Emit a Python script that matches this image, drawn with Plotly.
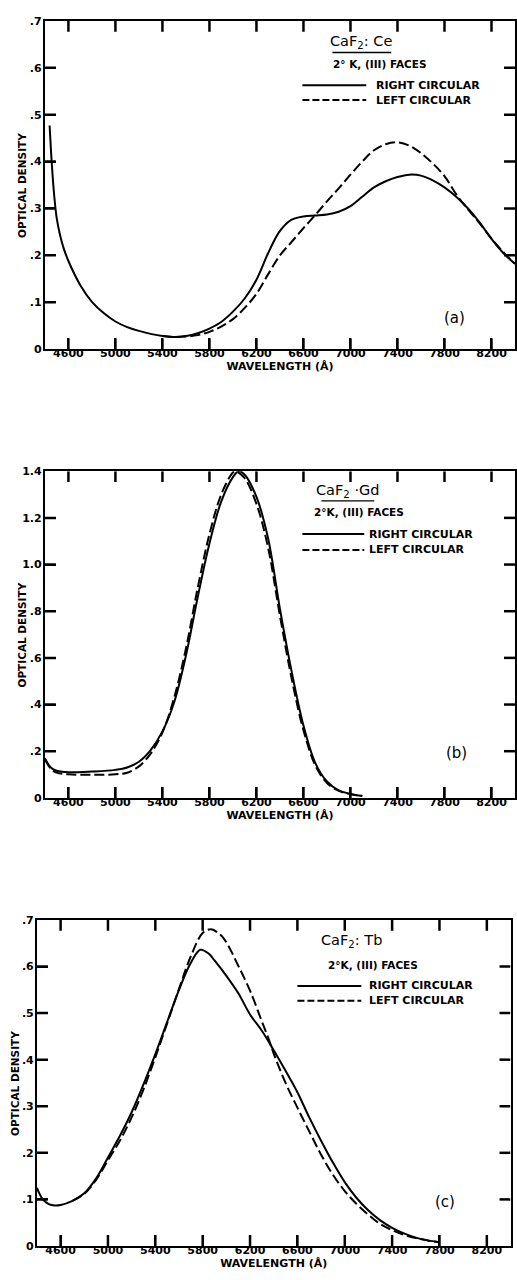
import plotly.graph_objects as go

# ---------------- data ----------------
# Panel (a) CaF2:Ce
wl_a_right = [4440, 4460, 4480, 4500, 4530, 4560, 4600, 4700, 4800, 4900, 5000, 5100, 5200, 5400, 5500, 5600,
              5700, 5800, 5900, 6000, 6100, 6200, 6300, 6400, 6500, 6600, 6700, 6800, 6900, 7000,
              7100, 7200, 7300, 7400, 7500, 7600, 7700, 7800, 7900, 8000, 8100, 8200, 8300, 8400]
od_a_right = [0.477, 0.39, 0.325, 0.28, 0.242, 0.215, 0.188, 0.137, 0.101, 0.077, 0.059, 0.047, 0.039, 0.028, 0.026, 0.028,
              0.034, 0.044, 0.058, 0.080, 0.108, 0.148, 0.205, 0.252, 0.276, 0.283, 0.285, 0.287, 0.293, 0.305,
              0.325, 0.345, 0.358, 0.367, 0.372, 0.370, 0.360, 0.345, 0.325, 0.300, 0.270, 0.235, 0.205, 0.182]
wl_a_left = [5400, 5500, 5600, 5700, 5800, 5900, 6000, 6100, 6200, 6300, 6400, 6500, 6600, 6700, 6800,
             6900, 7000, 7100, 7200, 7300, 7400, 7500, 7600, 7700, 7800, 7900, 8000, 8100, 8200, 8300, 8400]
od_a_left = [0.028, 0.026, 0.027, 0.030, 0.037, 0.048, 0.064, 0.088, 0.118, 0.160, 0.200, 0.229, 0.258, 0.286, 0.315,
             0.343, 0.372, 0.400, 0.424, 0.437, 0.441, 0.434, 0.418, 0.396, 0.369, 0.330, 0.298, 0.268, 0.236, 0.207, 0.182]

# Panel (b) CaF2:Gd
wl_b_right = [4400, 4450, 4500, 4600, 4800, 5000, 5100, 5200, 5300, 5400, 5500, 5600, 5700, 5800,
              5900, 6000, 6050, 6100, 6200, 6300, 6400, 6500, 6600, 6700, 6800, 6900, 7000, 7100]
od_b_right = [0.170, 0.130, 0.116, 0.110, 0.113, 0.120, 0.130, 0.155, 0.205, 0.285, 0.41, 0.61, 0.86, 1.09,
              1.27, 1.375, 1.40, 1.385, 1.29, 1.11, 0.81, 0.54, 0.31, 0.15, 0.07, 0.032, 0.017, 0.008]
wl_b_left = [4400, 4450, 4500, 4600, 4800, 5000, 5100, 5200, 5300, 5400, 5500, 5600, 5700, 5800,
             5900, 6000, 6025, 6100, 6200, 6300, 6400, 6500, 6600, 6700, 6800, 6900, 7000, 7100]
od_b_left = [0.165, 0.125, 0.108, 0.101, 0.099, 0.101, 0.108, 0.135, 0.19, 0.28, 0.43, 0.64, 0.90, 1.13,
             1.30, 1.395, 1.40, 1.37, 1.26, 1.07, 0.78, 0.51, 0.29, 0.14, 0.064, 0.03, 0.016, 0.008]

# Panel (c) CaF2:Tb
wl_c_right = [4400, 4450, 4500, 4550, 4600, 4700, 4800, 4900, 5000, 5100, 5200, 5300, 5400, 5500, 5600,
              5700, 5780, 5850, 5900, 6000, 6100, 6200, 6300, 6400, 6500, 6600, 6700, 6800, 6900, 7000,
              7100, 7200, 7300, 7400, 7500, 7600, 7700, 7800]
od_c_right = [0.125, 0.100, 0.090, 0.087, 0.088, 0.097, 0.113, 0.145, 0.190, 0.236, 0.287, 0.347, 0.412, 0.481, 0.550,
              0.608, 0.636, 0.628, 0.613, 0.580, 0.543, 0.497, 0.462, 0.420, 0.376, 0.330, 0.276, 0.226, 0.179, 0.137,
              0.103, 0.076, 0.055, 0.039, 0.027, 0.018, 0.012, 0.008]
wl_c_left = [4700, 4800, 4900, 5000, 5100, 5200, 5300, 5400, 5500, 5600, 5700, 5800, 5870, 5950, 6000, 6100,
             6200, 6300, 6375, 6400, 6500, 6600, 6700, 6800, 6900, 7000, 7100, 7200, 7300, 7400, 7500, 7600, 7700, 7800]
od_c_left = [0.097, 0.112, 0.142, 0.184, 0.226, 0.276, 0.336, 0.405, 0.478, 0.552, 0.622, 0.672, 0.680, 0.668, 0.652, 0.602,
             0.548, 0.482, 0.432, 0.413, 0.350, 0.297, 0.246, 0.196, 0.153, 0.118, 0.090, 0.067, 0.047, 0.034, 0.024, 0.017, 0.012, 0.008]

x_ticks = [4600, 5000, 5400, 5800, 6200, 6600, 7000, 7400, 7800, 8200]
x_ticktext = [str(v) for v in x_ticks]
y_ticks_07 = [0, 0.1, 0.2, 0.3, 0.4, 0.5, 0.6, 0.7]
y_text_07 = ["0", ".1", ".2", ".3", ".4", ".5", ".6", ".7"]
y_ticks_14 = [0, 0.2, 0.4, 0.6, 0.8, 1.0, 1.2, 1.4]
y_text_14 = ["0", ".2", ".4", ".6", ".8", "1.0", "1.2", "1.4"]

titles = ["CaF<sub>2</sub>: Ce", "CaF<sub>2</sub> ·Gd", "CaF<sub>2</sub>: Tb"]
subtitles = ["2° K, (III) FACES", "2°K, (III) FACES", "2°K, (III) FACES"]
panel_tags = ["(a)", "(b)", "(c)"]
legend_names = ["RIGHT CIRCULAR", "LEFT CIRCULAR"]
x_title = "WAVELENGTH (Å)"
y_title = "OPTICAL DENSITY"

# ---------------- figure ----------------
W, H = 517, 1280
X_RANGE = [4400, 8400]
TICK_PX = 11


def px(x):
    return x / W


def py(y):
    return 1 - y / H


BOLD = dict(family="DejaVu Sans", size=11, color="#000000", weight="bold")

# pixel geometry of each panel: (left, right, top, bottom)
geo = [(45, 516, 15, 346.7), (45, 516, 470, 800), (37, 511.5, 923.3, 1252.7)]
yranges = [[0, 0.7], [0, 1.4], [0, 0.7]]
yt = [(y_ticks_07, y_text_07), (y_ticks_14, y_text_14), (y_ticks_07, y_text_07)]
ytitle_x = [22, 22, 15]

fig = go.Figure()
series = [
    (wl_a_right, od_a_right, wl_a_left, od_a_left),
    (wl_b_right, od_b_right, wl_b_left, od_b_left),
    (wl_c_right, od_c_right, wl_c_left, od_c_left),
]
for i, (wr, odr, wlf, odl) in enumerate(series):
    sfx = "" if i == 0 else str(i + 1)
    xa, ya = "x" + sfx, "y" + sfx
    fig.add_trace(go.Scatter(x=wr, y=odr, mode="lines", xaxis=xa, yaxis=ya, name=legend_names[0],
                             line=dict(color="black", width=2, shape="spline", smoothing=1.0),
                             showlegend=False))
    fig.add_trace(go.Scatter(x=wlf, y=odl, mode="lines", xaxis=xa, yaxis=ya, name=legend_names[1],
                             line=dict(color="black", width=2, dash="10px,4px", shape="spline", smoothing=1.0),
                             showlegend=False))

    # inward tick marks on all four sides, drawn in the axes' own data units
    ymin, ymax = yranges[i]
    l, r, t, b = geo[i]
    dy = (ymax - ymin) * TICK_PX / (b - t)
    dx = (X_RANGE[1] - X_RANGE[0]) * TICK_PX / (r - l)
    for xv in x_ticks:
        for y0, y1 in ((ymin, ymin + dy), (ymax, ymax - dy)):
            fig.add_trace(go.Scatter(x=[xv, xv], y=[y0, y1], mode="lines", xaxis=xa, yaxis=ya,
                                     line=dict(color="black", width=2.5), hoverinfo="skip",
                                     showlegend=False))
    for yv in yt[i][0][1:-1]:
        for x0, x1 in ((X_RANGE[0], X_RANGE[0] + dx), (X_RANGE[1], X_RANGE[1] - dx)):
            fig.add_trace(go.Scatter(x=[x0, x1], y=[yv, yv], mode="lines", xaxis=xa, yaxis=ya,
                                     line=dict(color="black", width=2.5), hoverinfo="skip",
                                     showlegend=False))

layout_axes = {}
for i, (l, r, t, b) in enumerate(geo):
    sfx = "" if i == 0 else str(i + 1)
    layout_axes["xaxis" + sfx] = dict(
        showline=True, linecolor="black", linewidth=2, mirror=True,
        ticks="inside", ticklen=TICK_PX, tickwidth=2, tickcolor="black",
        showgrid=False, zeroline=False, tickfont=BOLD, ticklabelstandoff=-7,
        domain=[px(l), px(r)], range=X_RANGE, anchor="y" + sfx,
        tickmode="array", tickvals=x_ticks, ticktext=x_ticktext,
        title=dict(text=x_title, font=BOLD, standoff=2))
    layout_axes["yaxis" + sfx] = dict(
        showline=True, linecolor="black", linewidth=2, mirror=True,
        ticks="inside", ticklen=TICK_PX, tickwidth=2, tickcolor="black",
        showgrid=False, zeroline=False, tickfont=BOLD, ticklabelstandoff=-1,
        domain=[py(b), py(t)], range=yranges[i], anchor="x" + sfx,
        tickmode="array", tickvals=yt[i][0], ticktext=yt[i][1])

fig.update_layout(width=W, height=H, margin=dict(l=0, r=0, t=0, b=0),
                  paper_bgcolor="white", plot_bgcolor="white", showlegend=False, **layout_axes)

annotations = []
shapes = []

# ---------------- caption blocks ----------------
blocks = [
    dict(tx=362, ty=36, ul=(333, 392, 47), sx=381, sy=59, lx0=303, lx1=367, ly1=80, ly2=95, txt=375, tag=(455, 315)),
    dict(tx=348, ty=490, ul=(322, 375, 500), sx=360, sy=511.5, lx0=303, lx1=365, ly1=533.5, ly2=549.5, txt=368, tag=(457, 755)),
    dict(tx=352, ty=945, ul=None, sx=374, sy=969, lx0=298, lx1=362, ly1=990, ly2=1005, txt=368, tag=(446, 1208)),
]
for i, bk in enumerate(blocks):
    l, r, t, b = geo[i]
    annotations.append(dict(x=px(ytitle_x[i]), y=py((t + b) / 2), xref="paper", yref="paper", text=y_title,
                            textangle=-90, showarrow=False, xanchor="center", yanchor="middle",
                            font=dict(BOLD, size=10.5)))
    annotations.append(dict(x=px(bk["tx"]), y=py(bk["ty"]), xref="paper", yref="paper", text=titles[i],
                            showarrow=False, xanchor="center", yanchor="middle",
                            font=dict(family="DejaVu Sans", size=14.5, color="black")))
    if bk["ul"]:
        x0, x1, yy = bk["ul"]
        shapes.append(dict(type="line", xref="paper", yref="paper", x0=px(x0), x1=px(x1), y0=py(yy), y1=py(yy),
                           line=dict(color="black", width=1.3)))
    annotations.append(dict(x=px(bk["sx"]), y=py(bk["sy"]), xref="paper", yref="paper", text=subtitles[i],
                            showarrow=False, xanchor="center", yanchor="middle",
                            font=dict(family="DejaVu Sans", size=10.5, color="black", weight="bold")))
    shapes.append(dict(type="line", xref="paper", yref="paper", x0=px(bk["lx0"]), x1=px(bk["lx1"]),
                       y0=py(bk["ly1"]), y1=py(bk["ly1"]), line=dict(color="black", width=2)))
    shapes.append(dict(type="line", xref="paper", yref="paper", x0=px(bk["lx0"]), x1=px(bk["lx1"]),
                       y0=py(bk["ly2"]), y1=py(bk["ly2"]), line=dict(color="black", width=2, dash="7px,3px")))
    annotations.append(dict(x=px(bk["txt"]), y=py(bk["ly1"]), xref="paper", yref="paper", text=legend_names[0],
                            showarrow=False, xanchor="left", yanchor="middle", font=BOLD))
    annotations.append(dict(x=px(bk["txt"]), y=py(bk["ly2"]), xref="paper", yref="paper", text=legend_names[1],
                            showarrow=False, xanchor="left", yanchor="middle", font=BOLD))
    annotations.append(dict(x=px(bk["tag"][0]), y=py(bk["tag"][1]), xref="paper", yref="paper", text=panel_tags[i],
                            showarrow=False, xanchor="center", yanchor="middle",
                            font=dict(family="DejaVu Sans", size=15, color="black")))

fig.update_layout(annotations=annotations, shapes=shapes)

fig.write_html("out.html")
